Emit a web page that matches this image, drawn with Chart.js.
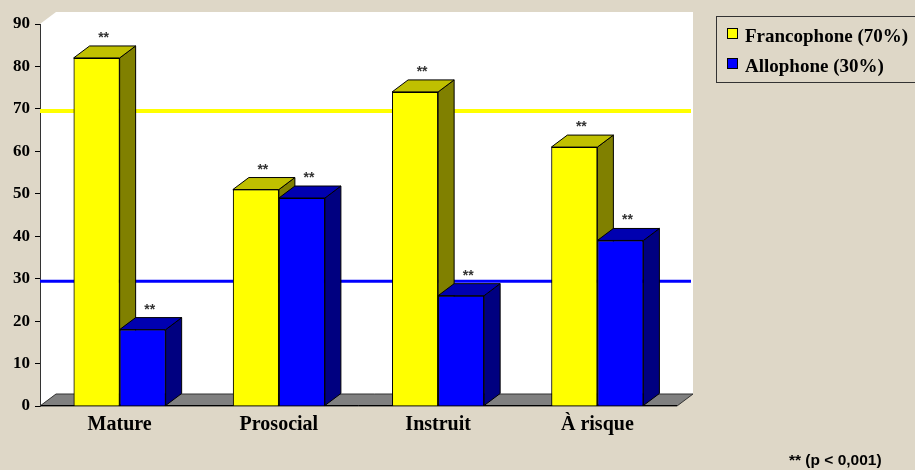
<!DOCTYPE html>
<html>
<head>
<meta charset="utf-8">
<script src="https://cdn.jsdelivr.net/npm/chart.js@4.4.0/dist/chart.umd.min.js"></script>
<style>
  html, body { margin: 0; padding: 0; background: #DED7C7; }
  #wrap { position: relative; width: 915px; height: 470px; overflow: hidden; background: #DED7C7; }
  canvas { position: absolute; left: 0; top: 0; }
  #legend { position: absolute; left: 716px; top: 16px; width: 210px; height: 67px; border: 1px solid #333; box-sizing: border-box; }
  .sw { position: absolute; left: 10px; width: 11px; height: 11px; border: 1px solid #000; box-sizing: border-box; }
  .lt { position: absolute; left: 28px; font: bold 19px "Liberation Serif", "Times New Roman", serif; line-height: 21px; white-space: nowrap; color: #000; }
  #note { position: absolute; left: 789px; top: 451px; font: bold 15.5px "Liberation Sans", Arial, sans-serif; line-height: 18px; white-space: nowrap; color: #000; }
</style>
</head>
<body>
<div id="wrap">
  <canvas id="c" width="915" height="470"></canvas>
  <div id="legend">
    <div class="sw" style="top:11px;background:#FFFF00"></div>
    <div class="lt" style="top:8px">Francophone (70%)</div>
    <div class="sw" style="top:41px;background:#0000FF"></div>
    <div class="lt" style="top:38px">Allophone (30%)</div>
  </div>
  <div id="note">** (p &lt; 0,001)</div>
</div>
<script>
const categories = ["Mature", "Prosocial", "Instruit", "À risque"];
const francophone = [82, 51, 74, 61];
const allophone = [18, 49, 26, 39];
const refFrancophone = 69.5;
const refAllophone = 29.4;
const yTicksMax = 90;
const yTicksStep = 10;
const significance = ["**", "**", "**", "**"];

const DX = 16, DY = -12;

const threeD = {
  id: 'threeD',
  beforeDraw(chart) {
    const ctx = chart.ctx, a = chart.chartArea;
    ctx.save();
    ctx.fillStyle = '#DED7C7';
    ctx.fillRect(0, 0, chart.width, chart.height);
    ctx.fillStyle = '#FFFFFF';
    ctx.beginPath();
    ctx.moveTo(a.left, a.bottom);
    ctx.lineTo(a.left, a.top);
    ctx.lineTo(a.left + DX, a.top + DY);
    ctx.lineTo(a.right + DX, a.top + DY);
    ctx.lineTo(a.right + DX, a.bottom + DY);
    ctx.lineTo(a.left + DX, a.bottom + DY);
    ctx.closePath();
    ctx.fill();
    ctx.fillStyle = '#808080';
    ctx.strokeStyle = '#333';
    ctx.lineWidth = 1;
    ctx.beginPath();
    ctx.moveTo(a.left, a.bottom);
    ctx.lineTo(a.right, a.bottom);
    ctx.lineTo(a.right + DX, a.bottom + DY);
    ctx.lineTo(a.left + DX, a.bottom + DY);
    ctx.closePath();
    ctx.fill();
    ctx.stroke();
    ctx.beginPath();
    ctx.strokeStyle = '#000';
    ctx.moveTo(a.left, a.bottom - 0.5);
    ctx.lineTo(a.right, a.bottom - 0.5);
    ctx.stroke();
    ctx.restore();
  },
  beforeDatasetsDraw(chart) {
    const ctx = chart.ctx, a = chart.chartArea, ys = chart.scales.y;
    ctx.save();
    [[refFrancophone, '#FFFF00', 4], [refAllophone, '#0000FF', 3]].forEach(([v, c, w]) => {
      const y = ys.getPixelForValue(v);
      ctx.strokeStyle = c;
      ctx.lineWidth = w;
      ctx.beginPath();
      ctx.moveTo(a.left, y);
      ctx.lineTo(a.right + DX - 2, y);
      ctx.stroke();
    });
    ctx.restore();
  },
  afterDatasetsDraw(chart) {
    const ctx = chart.ctx;
    chart.data.datasets.forEach((ds, di) => {
      const meta = chart.getDatasetMeta(di);
      meta.data.forEach((bar, i) => {
        bar.draw(ctx, chart.chartArea);
        const p = bar.getProps(['x', 'y', 'width', 'base'], true);
        const l = p.x - p.width / 2, r = p.x + p.width / 2, y = p.y, b = p.base;
        ctx.save();
        ctx.lineWidth = 1;
        ctx.strokeStyle = '#000';
        ctx.fillStyle = ds.sideColor;
        ctx.beginPath();
        ctx.moveTo(r, y); ctx.lineTo(r + DX, y + DY); ctx.lineTo(r + DX, b + DY); ctx.lineTo(r, b);
        ctx.closePath(); ctx.fill(); ctx.stroke();
        ctx.fillStyle = ds.topColor;
        ctx.beginPath();
        ctx.moveTo(l, y); ctx.lineTo(l + DX, y + DY); ctx.lineTo(r + DX, y + DY); ctx.lineTo(r, y);
        ctx.closePath(); ctx.fill(); ctx.stroke();
        ctx.fillStyle = '#333';
        ctx.font = 'bold 14px "Liberation Sans", Arial, sans-serif';
        ctx.textAlign = 'center';
        ctx.textBaseline = 'alphabetic';
        ctx.fillText(significance[i], p.x + DX / 2 - 1, y - 16);
        ctx.restore();
      });
    });
  }
};

new Chart(document.getElementById('c'), {
  type: 'bar',
  data: {
    labels: categories,
    datasets: [
      { label: 'Francophone (70%)', data: francophone, backgroundColor: '#FFFF00', borderColor: '#000', borderWidth: 1,
        sideColor: '#808000', topColor: '#C0C000' },
      { label: 'Allophone (30%)', data: allophone, backgroundColor: '#0000FF', borderColor: '#000', borderWidth: 1,
        sideColor: '#000080', topColor: '#0000B0' }
    ]
  },
  options: {
    responsive: false,
    animation: false,
    devicePixelRatio: 1,
    layout: { padding: { left: 0, right: 238, top: 24, bottom: 0 } },
    plugins: { legend: { display: false }, tooltip: { enabled: false } },
    datasets: { bar: { categoryPercentage: 0.578, barPercentage: 1.0 } },
    scales: {
      x: {
        grid: { display: false, drawTicks: false },
        border: { display: false },
        ticks: { color: '#000', padding: 7, font: { family: '"Liberation Serif", "Times New Roman", serif', weight: 'bold', size: 20, lineHeight: 1.2 } },
        afterFit: s => { s.height = 64; }
      },
      y: {
        min: 0, max: yTicksMax,
        ticks: { stepSize: yTicksStep, color: '#000', padding: 5, font: { family: '"Liberation Serif", "Times New Roman", serif', weight: 'bold', size: 17 } },
        grid: { drawOnChartArea: false, drawTicks: true, tickLength: 5, color: '#000' },
        border: { display: true, color: '#333', width: 1 },
        afterFit: s => { s.width = 40; }
      }
    }
  },
  plugins: [threeD]
});
</script>
</body>
</html>
